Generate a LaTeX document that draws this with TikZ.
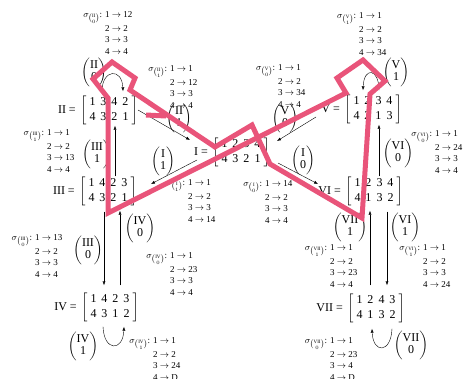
\documentclass[tikz,border=0pt]{standalone}
\usepackage{fontspec}
\setmainfont{Liberation Serif}
\usepackage{amsmath}
\usetikzlibrary{arrows.meta}
\definecolor{scrib}{RGB}{233,84,122}
\newcommand\bnm[2]{$\left(\begin{tabular}{@{}c@{}}#1\\#2\end{tabular}\right)$}
\newcommand\mpp[2]{#1 $\rightarrow$ #2}
\newcommand\sgl[6]{\begin{tabular}[t]{@{}l@{}}\llap{$\sigma_{\binom{\mathrm{#1}}{#2}}$:\hspace{3pt}}\mpp{1}{#3}\\\mpp{2}{#4}\\\mpp{3}{#5}\\\mpp{4}{#6}\end{tabular}}
\newcommand\mtx[8]{$\left[\begin{tabular}{@{\hspace{3pt}}c@{\hspace{5pt}}c@{\hspace{5pt}}c@{\hspace{5pt}}c@{\hspace{3pt}}}#1&#2&#3&#4\\#5&#6&#7&#8\end{tabular}\right]$}
\begin{document}
\begin{tikzpicture}[x=1pt,y=-1pt,
  mat/.style={inner sep=0pt, font=\fontsize{12}{14.5}\selectfont},
  lbl/.style={inner sep=0pt, font=\fontsize{12}{14.5}\selectfont, label distance=4pt},
  bn/.style={inner sep=0pt, font=\fontsize{12}{12}\selectfont},
  sig/.style={inner sep=0pt, anchor=base west, font=\fontsize{9}{11.5}\selectfont},
  arr/.style={-{Latex[length=4pt,width=3pt]}, line width=0.4pt},
  scribble/.style={draw=scrib, line width=5pt, line join=miter}]
\useasboundingbox (0,0) rectangle (463,378);

% matrices
\node[mat,label={[lbl]left:II =}] (II) at (109,110) {\mtx{1}{3}{4}{2}{4}{3}{2}{1}};
\node[mat,label={[lbl]left:I =}] (I) at (241,152) {\mtx{1}{2}{3}{4}{4}{3}{2}{1}};
\node[mat,label={[lbl]left:V =}] (V) at (373,109) {\mtx{1}{2}{3}{4}{4}{2}{1}{3}};
\node[mat,label={[lbl]left:III =}] (III) at (108,191) {\mtx{1}{4}{2}{3}{4}{3}{2}{1}};
\node[mat,label={[lbl]left:VI =}] (VI) at (374,191) {\mtx{1}{2}{3}{4}{4}{1}{3}{2}};
\node[mat,label={[lbl]left:IV =}] (IV) at (110,307) {\mtx{1}{4}{2}{3}{4}{3}{1}{2}};
\node[mat,label={[lbl]left:VII =}] (VII) at (376,308) {\mtx{1}{2}{4}{3}{4}{1}{3}{2}};

% binomial labels
\node[bn] (bII0) at (94,72) {\bnm{II}{0}};
\node[bn] (bII1) at (179,118) {\bnm{II}{1}};
\node[bn] (bV0) at (285,118) {\bnm{V}{0}};
\node[bn] (bV1) at (396,72) {\bnm{V}{1}};
\node[bn] (bI1) at (163,161) {\bnm{I}{1}};
\node[bn] (bI0) at (303,160) {\bnm{I}{0}};
\node[bn] (bIII1) at (97,154) {\bnm{III}{1}};
\node[bn] (bIV0) at (140,228) {\bnm{IV}{0}};
\node[bn] (bIII0) at (88,250) {\bnm{III}{0}};
\node[bn] (bIV1) at (83,346) {\bnm{IV}{1}};
\node[bn] (bVI0) at (398,153) {\bnm{VI}{0}};
\node[bn] (bVII1) at (350,227) {\bnm{VII}{1}};
\node[bn] (bVI1) at (405,227) {\bnm{VI}{1}};
\node[bn] (bVII0) at (411,345) {\bnm{VII}{0}};

% sigma lists
\node[sig] (sII0) at (105,17) {\sgl{II}{0}{12}{2}{3}{4}};
\node[sig] (sII1) at (170,71) {\sgl{II}{1}{1}{12}{3}{4}};
\node[sig] (sV0) at (278,70) {\sgl{V}{0}{1}{2}{34}{4}};
\node[sig] (sV1) at (359,18) {\sgl{V}{1}{1}{2}{3}{34}};
\node[sig] (sIII1) at (47,135) {\sgl{III}{1}{1}{2}{13}{4}};
\node[sig] (sI1) at (188,185) {\sgl{I}{1}{1}{2}{3}{14}};
\node[sig] (sI0) at (265,186) {\sgl{I}{0}{14}{2}{3}{4}};
\node[sig] (sIII0) at (35,240) {\sgl{III}{0}{13}{2}{3}{4}};
\node[sig] (sIV0) at (170,258) {\sgl{IV}{0}{1}{23}{3}{4}};
\node[sig] (sIV1) at (153,343) {\sgl{IV}{1}{1}{2}{24}{D}};
\node[sig] (sVI0) at (435,136) {\sgl{VI}{0}{1}{24}{3}{4}};
\node[sig] (sVII1) at (330,250) {\sgl{VII}{1}{1}{2}{23}{4}};
\node[sig] (sVI1) at (423,250) {\sgl{VI}{1}{1}{2}{3}{24}};
\node[sig] (sVII0) at (330,343) {\sgl{VII}{0}{1}{23}{4}{D}};

% free arrow ends
\coordinate (tII1) at (190,140);
\coordinate (fV0) at (316,117);
\coordinate (tV0) at (277,141);
\coordinate (fI1) at (197,160);
\coordinate (tI1) at (151,184);
\coordinate (fI0) at (278,163);
\coordinate (tI0) at (318,184);

% diagonal arrows
\draw[arr] (II.east) -- (tII1);
\draw[arr] (fV0) -- (tV0);
\draw[arr] (fI1) -- (tI1);
\draw[arr] (fI0) -- (tI0);

% vertical arrows
\draw[arr, shorten >=1pt] ([xshift=7pt]III.north) -- ([xshift=6pt]II.south);
\draw[arr, shorten <=6pt, shorten >=7pt] ([xshift=-4pt]III.south) -- ([xshift=-6pt]IV.north);
\draw[arr, shorten <=7pt, shorten >=5pt] ([xshift=10pt]IV.north) -- ([xshift=12pt]III.south);
\draw[arr, shorten >=1pt] ([xshift=5pt]VI.north) -- ([xshift=6pt]V.south);
\draw[arr, shorten <=8pt, shorten >=5pt] ([xshift=-6pt]VII.north) -- ([xshift=-4pt]VI.south);
\draw[arr, shorten <=6pt, shorten >=8pt] ([xshift=13pt]VI.south) -- ([xshift=11pt]VII.north);

% loops
\draw[arr] ([shift={(-7,-4)}]II.north) .. controls +(0,-22) and +(-1,-24) .. ([shift={(14,-4)}]II.north);
\draw[arr] ([shift={(6,-4)}]V.north) .. controls +(0,-22) and +(1,-24) .. ([shift={(-10,-4)}]V.north);
\draw[arr] ([shift={(-7,5)}]IV.south) .. controls +(1,25) and +(-1,25) .. ([shift={(14,5)}]IV.south);
\draw[arr] ([shift={(16,6)}]VII.south) .. controls +(-1,25) and +(1,25) .. ([shift={(-4,6)}]VII.south);

% scribble
\draw[scribble] (108,98) -- (93,79) -- (112,62) -- (135,78) -- (130,90) -- (215,147) -- (252,125) -- (270,164) -- (362,218) -- (370,94) -- (385,81) -- (363,60) -- (337,78) -- (346,93) -- (108,213) -- cycle;
\draw[scribble] (146,115) -- (166,116);
\end{tikzpicture}
\end{document}
